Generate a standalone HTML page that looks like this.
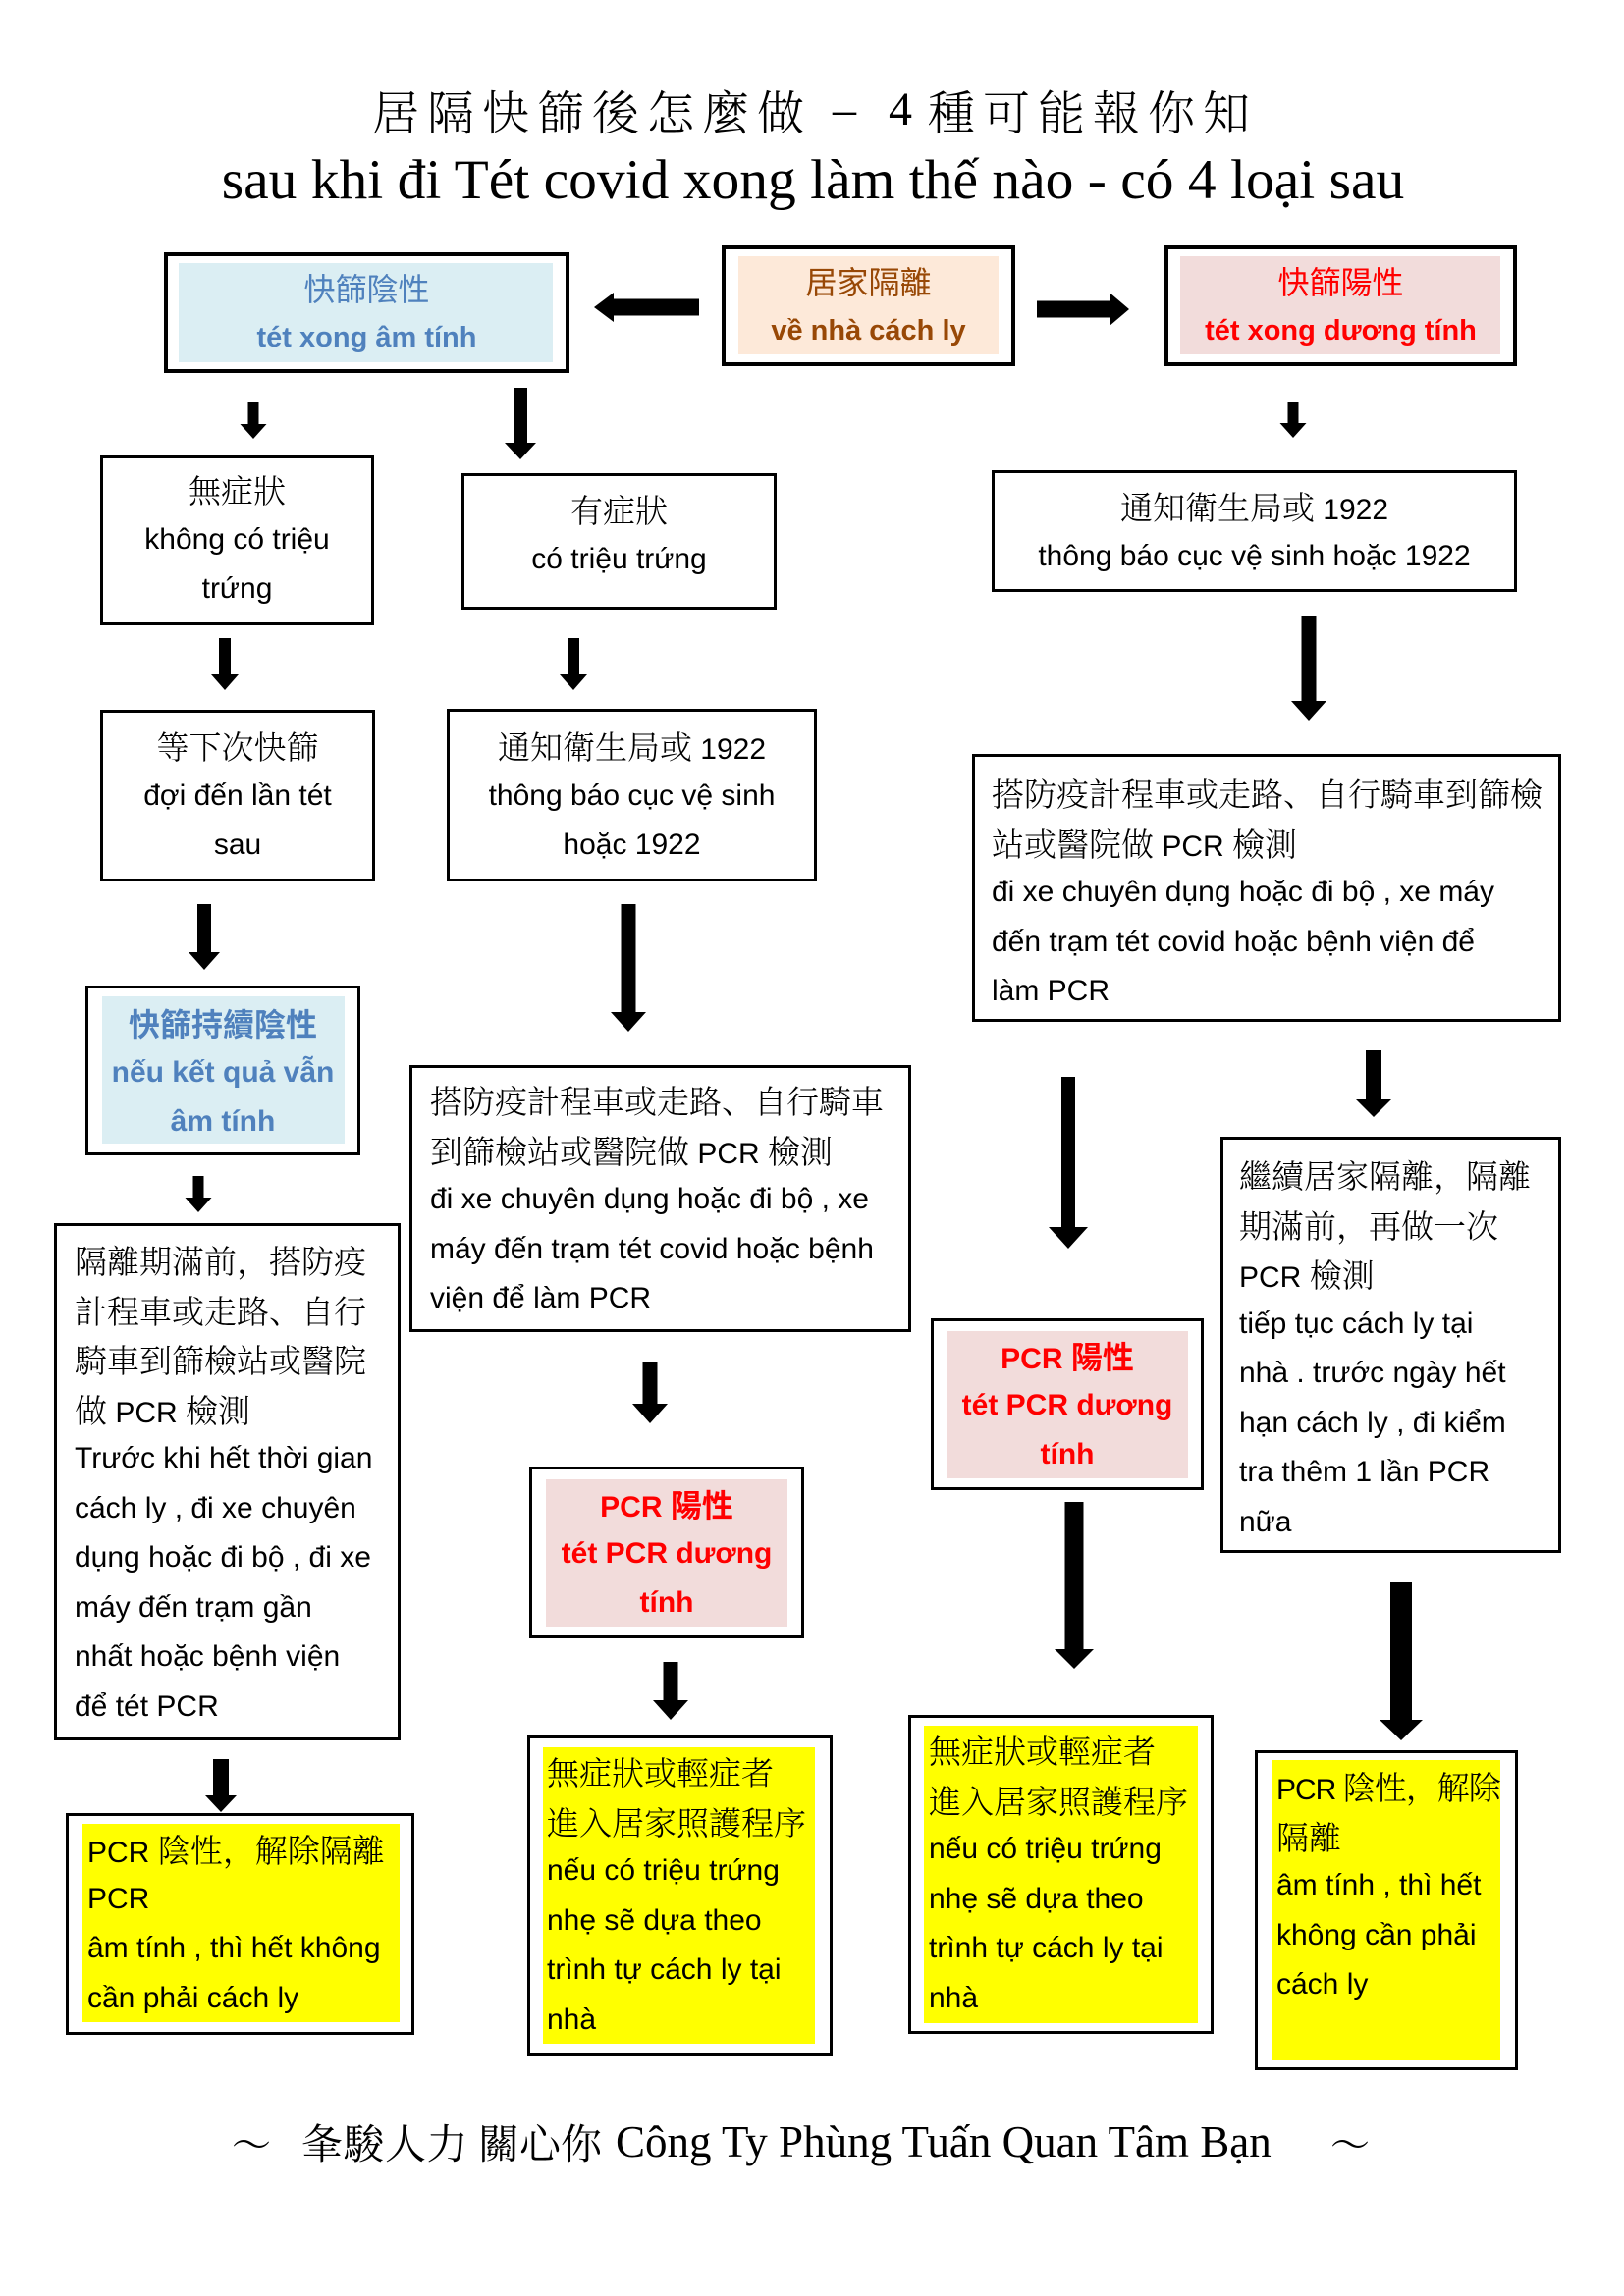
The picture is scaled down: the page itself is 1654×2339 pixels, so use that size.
<!DOCTYPE html>
<html><head><meta charset="utf-8">
<style>
*{margin:0;padding:0;box-sizing:border-box}
body{width:1654px;height:2339px;background:#fff;position:relative;overflow:hidden;font-family:"Liberation Sans","Noto Serif CJK SC",serif;color:#000}
.b{position:absolute;border:3px solid #000;background:#fff}
.b4{border-width:4px}
.f{position:absolute}
.t{position:absolute;white-space:nowrap;font-size:30px}
.t div{height:50.5px;line-height:50.5px}
.ctr{text-align:center}
.c{font-family:"Noto Serif CJK SC","Noto Sans CJK TC",serif;font-size:33px;font-weight:300}
.cs{font-family:"Noto Sans CJK TC","Noto Sans CJK SC",sans-serif;font-size:32px}
.bd{font-weight:bold}
.blue{color:#4F81BD}
.brown{color:#984806}
.red{color:#FF0000}
.abs{position:absolute;white-space:nowrap}
</style></head><body>

<!-- Title -->
<div class="abs" style="left:379px;top:88px;font:48px/48px 'Noto Serif CJK SC',serif;letter-spacing:8px;font-weight:300">居隔快篩後怎麼做</div>
<div class="abs" style="left:848px;top:88px;font:48px/48px 'Liberation Serif',serif">–</div>
<div class="abs" style="left:905px;top:88px;font:48px/48px 'Liberation Serif',serif">4</div>
<div class="abs" style="left:945px;top:88px;font:48px/48px 'Noto Serif CJK SC',serif;letter-spacing:8px;font-weight:300">種可能報你知</div>
<div class="abs" style="left:0;width:1656px;text-align:center;top:155px;font:57.5px/57px 'Liberation Serif',serif">sau khi đi Tét covid xong làm thế nào - có 4 loại sau</div>

<!-- Top row -->
<div class="b b4" style="left:167px;top:257px;width:413px;height:123px"></div>
<div class="f" style="left:182px;top:268px;width:381px;height:101px;background:#DBEEF3"></div>
<div class="t ctr blue" style="left:167px;top:268px;width:413px">
<div><span class="cs">快篩陰性</span></div>
<div class="bd" style="font-size:29px">tét xong âm tính</div>
</div>

<div class="b b4" style="left:735px;top:250px;width:299px;height:123px"></div>
<div class="f" style="left:752px;top:261px;width:265px;height:100px;background:#FDE9D9"></div>
<div class="t ctr brown" style="left:735px;top:261px;width:299px">
<div><span class="cs">居家隔離</span></div>
<div class="bd" style="font-size:29px">về nhà cách ly</div>
</div>

<div class="b b4" style="left:1186px;top:250px;width:359px;height:123px"></div>
<div class="f" style="left:1202px;top:261px;width:326px;height:100px;background:#F2DCDB"></div>
<div class="t ctr red" style="left:1186px;top:261px;width:359px">
<div><span class="cs">快篩陽性</span></div>
<div class="bd" style="font-size:29px">tét xong dương tính</div>
</div>

<!-- Row 2 -->
<div class="b" style="left:102px;top:464px;width:279px;height:173px"></div>
<div class="t ctr" style="left:102px;top:474px;width:279px">
<div><span class="c">無症狀</span></div>
<div>không có triệu</div>
<div>trứng</div>
</div>

<div class="b" style="left:470px;top:482px;width:321px;height:139px"></div>
<div class="t ctr" style="left:470px;top:494px;width:321px">
<div><span class="c">有症狀</span></div>
<div>có triệu trứng</div>
</div>

<div class="b" style="left:1010px;top:479px;width:535px;height:124px"></div>
<div class="t ctr" style="left:1010px;top:491px;width:535px">
<div><span class="c">通知衛生局或</span> 1922</div>
<div>thông báo cục vệ sinh hoặc 1922</div>
</div>

<!-- Row 3 -->
<div class="b" style="left:102px;top:723px;width:280px;height:175px"></div>
<div class="t ctr" style="left:102px;top:735px;width:280px">
<div><span class="c">等下次快篩</span></div>
<div>đợi đến lần tét</div>
<div>sau</div>
</div>

<div class="b" style="left:455px;top:722px;width:377px;height:176px"></div>
<div class="t ctr" style="left:455px;top:735px;width:377px">
<div><span class="c">通知衛生局或</span> 1922</div>
<div>thông báo cục vệ sinh</div>
<div>hoặc 1922</div>
</div>

<div class="b" style="left:990px;top:768px;width:600px;height:273px"></div>
<div class="t" style="left:1010px;top:783px">
<div><span class="c">搭防疫計程車或走路、自行騎車到篩檢</span></div>
<div><span class="c">站或醫院做</span> PCR <span class="c">檢測</span></div>
<div>đi xe chuyên dụng hoặc đi bộ , xe máy</div>
<div>đến trạm tét covid hoặc bệnh viện để</div>
<div>làm PCR</div>
</div>

<!-- J -->
<div class="b" style="left:87px;top:1004px;width:280px;height:173px"></div>
<div class="f" style="left:104px;top:1015px;width:247px;height:150px;background:#DBEEF3"></div>
<div class="t ctr blue bd" style="left:87px;top:1017px;width:280px">
<div><span class="cs" style="font-weight:bold">快篩持續陰性</span></div>
<div>nếu kết quả vẫn</div>
<div>âm tính</div>
</div>

<!-- K -->
<div class="b" style="left:417px;top:1085px;width:511px;height:272px"></div>
<div class="t" style="left:438px;top:1096px">
<div><span class="c">搭防疫計程車或走路、自行騎車</span></div>
<div><span class="c">到篩檢站或醫院做</span> PCR <span class="c">檢測</span></div>
<div>đi xe chuyên dụng hoặc đi bộ , xe</div>
<div>máy đến trạm tét covid hoặc bệnh</div>
<div>viện để làm PCR</div>
</div>

<!-- L -->
<div class="b" style="left:1243px;top:1158px;width:347px;height:424px"></div>
<div class="t" style="left:1262px;top:1172px">
<div><span class="c">繼續居家隔離，隔離</span></div>
<div><span class="c">期滿前，再做一次</span></div>
<div>PCR <span class="c">檢測</span></div>
<div>tiếp tục cách ly tại</div>
<div>nhà . trước ngày hết</div>
<div>hạn cách ly , đi kiểm</div>
<div>tra thêm 1 lần PCR</div>
<div>nữa</div>
</div>

<!-- M -->
<div class="b" style="left:55px;top:1246px;width:353px;height:527px"></div>
<div class="t" style="left:76px;top:1259px">
<div><span class="c">隔離期滿前，搭防疫</span></div>
<div><span class="c">計程車或走路、自行</span></div>
<div><span class="c">騎車到篩檢站或醫院</span></div>
<div><span class="c">做</span> PCR <span class="c">檢測</span></div>
<div>Trước khi hết thời gian</div>
<div>cách ly , đi xe chuyên</div>
<div>dụng hoặc đi bộ , đi xe</div>
<div>máy đến trạm gần</div>
<div>nhất hoặc bệnh viện</div>
<div>để tét PCR</div>
</div>

<!-- O -->
<div class="b" style="left:948px;top:1343px;width:278px;height:175px"></div>
<div class="f" style="left:964px;top:1356px;width:246px;height:150px;background:#F2DCDB"></div>
<div class="t ctr red bd" style="left:948px;top:1356px;width:278px">
<div>PCR <span class="cs">陽性</span></div>
<div>tét PCR dương</div>
<div>tính</div>
</div>

<!-- N -->
<div class="b" style="left:539px;top:1494px;width:280px;height:175px"></div>
<div class="f" style="left:556px;top:1507px;width:246px;height:150px;background:#F2DCDB"></div>
<div class="t ctr red bd" style="left:539px;top:1507px;width:280px">
<div>PCR <span class="cs">陽性</span></div>
<div>tét PCR dương</div>
<div>tính</div>
</div>

<!-- P -->
<div class="b" style="left:67px;top:1847px;width:355px;height:226px"></div>
<div class="f" style="left:84px;top:1858px;width:323px;height:202px;background:#FFFF00"></div>
<div class="t" style="left:89px;top:1859px">
<div>PCR <span class="c">陰性，解除隔離</span></div>
<div>PCR</div>
<div>âm tính , thì hết không</div>
<div>cần phải cách ly</div>
</div>

<!-- Q -->
<div class="b" style="left:537px;top:1768px;width:311px;height:326px"></div>
<div class="f" style="left:553px;top:1780px;width:277px;height:302px;background:#FFFF00"></div>
<div class="t" style="left:557px;top:1780px">
<div><span class="c">無症狀或輕症者</span></div>
<div><span class="c">進入居家照護程序</span></div>
<div>nếu có triệu trứng</div>
<div>nhẹ sẽ dựa theo</div>
<div>trình tự cách ly tại</div>
<div>nhà</div>
</div>

<!-- R -->
<div class="b" style="left:925px;top:1747px;width:311px;height:325px"></div>
<div class="f" style="left:941px;top:1758px;width:279px;height:303px;background:#FFFF00"></div>
<div class="t" style="left:946px;top:1758px">
<div><span class="c">無症狀或輕症者</span></div>
<div><span class="c">進入居家照護程序</span></div>
<div>nếu có triệu trứng</div>
<div>nhẹ sẽ dựa theo</div>
<div>trình tự cách ly tại</div>
<div>nhà</div>
</div>

<!-- S -->
<div class="b" style="left:1278px;top:1783px;width:268px;height:326px"></div>
<div class="f" style="left:1295px;top:1793px;width:233px;height:306px;background:#FFFF00"></div>
<div class="t" style="left:1300px;top:1795px">
<div style="letter-spacing:-1px">PCR <span class="c">陰性，解除</span></div>
<div><span class="c">隔離</span></div>
<div>âm tính , thì hết</div>
<div>không cần phải</div>
<div>cách ly</div>
</div>

<!-- Arrows -->
<svg class="abs" style="left:0;top:0" width="1654" height="2339" viewBox="0 0 1654 2339">
<g fill="#000">
<polygon points="605,313 625,298 625,304.5 712,304.5 712,321.5 625,321.5 625,328"/>
<polygon points="1150,315 1130,298 1130,306.5 1056,306.5 1056,323.5 1130,323.5 1130,332"/>
<!-- a1 -->
<polygon points="252.5,410 263.5,410 263.5,432 271.5,432 258,447 244.5,432 252.5,432"/>
<!-- a2 -->
<polygon points="523,395 537,395 537,451 546,451 530,468 514,451 523,451"/>
<!-- a3 -->
<polygon points="1311.5,410 1322.5,410 1322.5,431 1330.5,431 1317,446 1303.5,431 1311.5,431"/>
<!-- b1 b2 -->
<polygon points="223,650 235,650 235,687 243,687 229,703 215,687 223,687"/>
<polygon points="578,650 590,650 590,687 598,687 584,703 570,687 578,687"/>
<!-- b3 -->
<polygon points="1325.5,628 1340.5,628 1340.5,714 1351,714 1333,734 1315,714 1325.5,714"/>
<!-- c1 -->
<polygon points="201,921 215,921 215,970 224,970 208,988 192,970 201,970"/>
<!-- c2 -->
<polygon points="632.5,921 647.5,921 647.5,1031 658,1031 640,1051 622,1031 632.5,1031"/>
<!-- c3 -->
<polygon points="1391,1070 1407,1070 1407,1120 1417,1120 1399,1138 1381,1120 1391,1120"/>
<!-- c4 -->
<polygon points="1081,1097 1095,1097 1095,1250 1108,1250 1088,1272 1068,1250 1081,1250"/>
<!-- d1 -->
<polygon points="196.5,1198 207.5,1198 207.5,1220 215.5,1220 202,1235 188.5,1220 196.5,1220"/>
<!-- d2 -->
<polygon points="654.5,1388 669.5,1388 669.5,1430 680,1430 662,1450 644,1430 654.5,1430"/>
<!-- e1 -->
<polygon points="1084.5,1530 1103.5,1530 1103.5,1680 1114,1680 1094,1700 1074,1680 1084.5,1680"/>
<!-- e2 -->
<polygon points="675.5,1693 690.5,1693 690.5,1732 701,1732 683,1752 665,1732 675.5,1732"/>
<!-- e3 -->
<polygon points="1416,1612 1438,1612 1438,1752 1449,1752 1427,1773 1405,1752 1416,1752"/>
<!-- e4 -->
<polygon points="217,1792 233,1792 233,1829 241,1829 225,1846 209,1829 217,1829"/>
</g>
</svg>

<!-- Footer -->
<div class="abs" style="left:236px;top:2160px;font:40px/45px 'Noto Serif CJK SC',serif">～</div>
<div class="abs" style="left:307px;top:2160px;font:42px/45px 'Noto Serif CJK SC',serif;letter-spacing:0.5px">夆駿人力</div>
<div class="abs" style="left:487px;top:2160px;font:42px/45px 'Noto Serif CJK SC',serif">關心你</div>
<div class="abs" style="left:627px;top:2160px;font:45px/45px 'Liberation Serif',serif">Công Ty Phùng Tuấn Quan Tâm Bạn</div>
<div class="abs" style="left:1355px;top:2160px;font:40px/45px 'Noto Serif CJK SC',serif">～</div>

</body></html>
